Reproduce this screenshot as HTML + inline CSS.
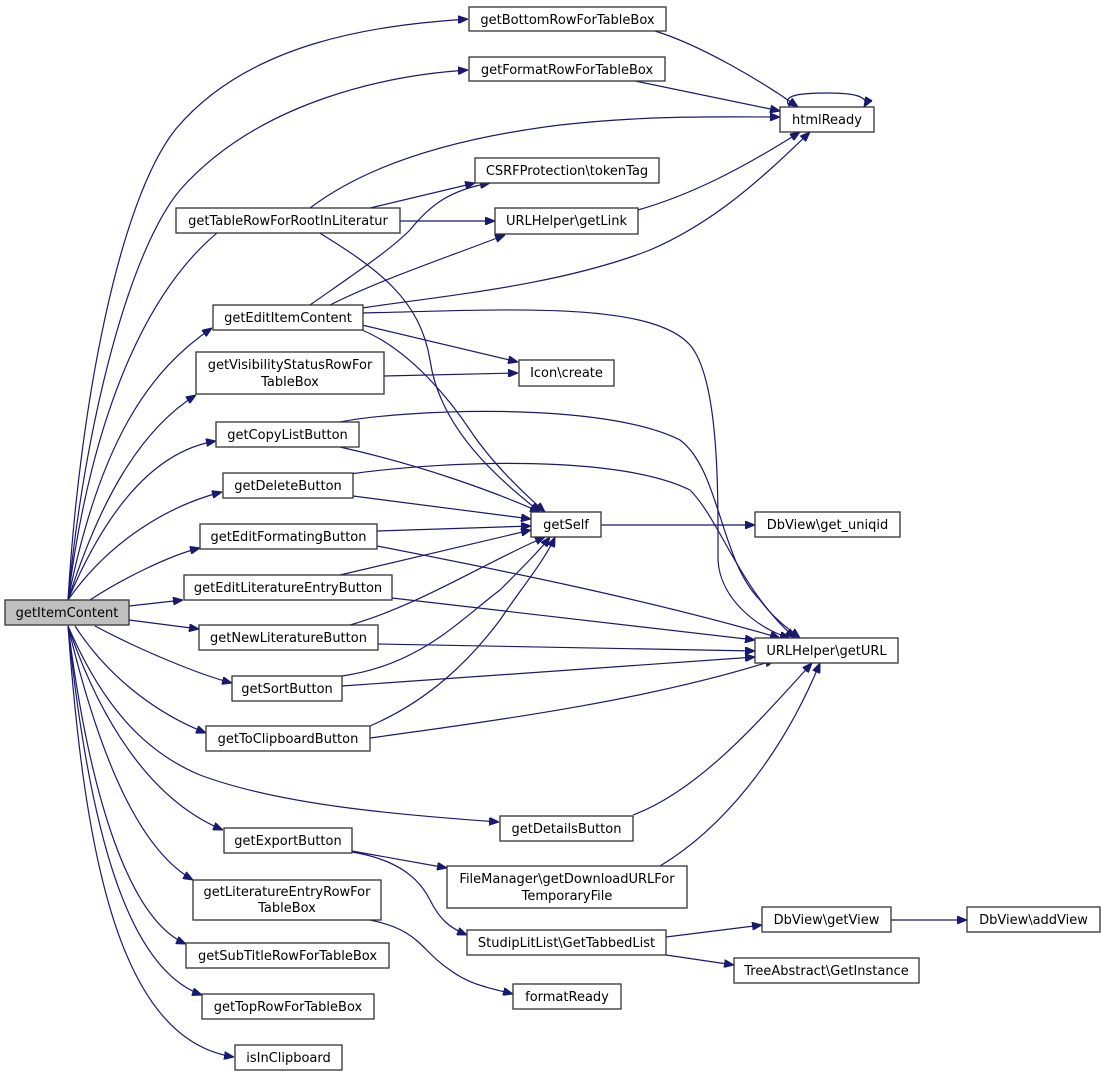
<!DOCTYPE html>
<html><head><meta charset="utf-8"><style>
html,body{margin:0;padding:0;background:#fff;}
svg{display:block;}
text{font-family:"DejaVu Sans","Liberation Sans",sans-serif;font-size:13px;fill:#000;}
.n{fill:#fff;stroke:#333;stroke-width:1.3;}
.e{fill:none;stroke:#191970;stroke-width:1.2;}
</style></head><body>
<svg width="1105" height="1079" viewBox="0 0 1105 1079" xmlns="http://www.w3.org/2000/svg">
<defs><marker id="a" markerWidth="10" markerHeight="8" refX="10" refY="4" orient="auto" markerUnits="userSpaceOnUse"><path d="M0,0 L10,4 L0,8 z" fill="#191970" stroke="#191970"/></marker></defs>
<g class="e" marker-end="url(#a)">
<!-- from getItemContent -->
<path d="M68,600 C80,400 120,200 175,130 C250,40 380,25 468,19"/>
<path d="M68,600 C85,420 130,250 180,190 C260,100 390,75 468,70"/>
<path d="M68,600 C90,420 150,260 255,208"/>
<path d="M68,600 C100,440 150,370 212,328"/>
<path d="M68,600 C100,500 140,430 196,395"/>
<path d="M68,600 C110,500 160,450 216,441"/>
<path d="M68,600 C110,540 170,505 222,492"/>
<path d="M90,600 C120,580 170,555 200,548"/>
<path d="M129,606 L183,600"/>
<path d="M129,620 L199,629"/>
<path d="M95,626 C140,650 200,675 232,683"/>
<path d="M75,626 C110,680 160,715 206,733"/>
<path d="M68,626 C100,700 140,750 200,775 C280,805 400,815 499,822"/>
<path d="M68,626 C100,720 150,800 223,830"/>
<path d="M68,626 C100,760 140,850 193,880"/>
<path d="M68,626 C90,800 130,920 186,944"/>
<path d="M68,626 C90,840 130,970 202,995"/>
<path d="M68,626 C85,860 120,1040 234,1057"/>
<!-- to htmlReady -->
<path d="M655,31 C700,45 760,80 798,107"/>
<path d="M635,81 L780,111"/>
<path d="M310,208 C360,170 440,140 560,125 C650,115 720,117 780,117"/>
<path d="M638,210 C690,195 740,170 800,132"/>
<path d="M362,308 C450,295 560,285 650,250 C720,220 770,170 810,132"/>
<path d="M790,107 C780,95 800,93 828,93 C856,93 870,97 864,107"/>
<!-- getTableRow -->
<path d="M370,208 L475,183"/>
<path d="M400,221 L495,221"/>
<path d="M318,232 C380,270 420,300 430,360 C440,430 500,480 540,512"/>
<!-- getEditItemContent -->
<path d="M310,305 C360,270 390,250 410,230 C430,205 450,190 490,183"/>
<path d="M330,305 C380,280 440,260 505,235"/>
<path d="M362,313 C500,310 650,300 690,345 C720,380 718,500 718,560 C720,600 760,630 790,638"/>
<path d="M362,325 L518,362"/>
<path d="M362,330 C410,350 450,400 470,430 C490,460 520,490 545,512"/>
<!-- visibility -->
<path d="M384,376 L518,373"/>
<!-- copy list -->
<path d="M340,422 C400,410 600,400 680,440 C720,470 720,560 760,600 C775,620 790,630 800,638"/>
<path d="M340,447 C420,465 490,490 540,512"/>
<!-- delete -->
<path d="M350,474 C450,460 620,455 690,490 C720,520 740,590 795,638"/>
<path d="M353,496 L531,519"/>
<!-- editFormating -->
<path d="M377,531 L531,526"/>
<path d="M377,546 C500,570 650,600 780,638"/>
<!-- editLitEntry -->
<path d="M340,575 L531,530"/>
<path d="M392,598 L755,640"/>
<!-- newLit -->
<path d="M350,625 C420,605 490,560 545,537"/>
<path d="M378,644 L755,651"/>
<!-- sort -->
<path d="M342,676 C420,665 460,620 500,590 C520,570 540,550 550,537"/>
<path d="M342,686 L755,657"/>
<!-- toClipboard -->
<path d="M370,726 C430,700 470,660 500,620 C520,590 545,560 555,537"/>
<path d="M370,738 C500,720 650,700 775,660"/>
<!-- getSelf -->
<path d="M601,525 L755,525"/>
<!-- details -->
<path d="M633,815 C700,790 760,720 812,663"/>
<!-- export -->
<path d="M352,851 L447,868"/>
<path d="M352,852 C400,860 420,880 430,900 C440,920 450,928 467,935"/>
<!-- FileManager -->
<path d="M660,866 C720,830 780,760 820,663"/>
<!-- lit entry row -->
<path d="M370,920 C420,930 420,950 450,970 C470,985 490,988 513,994"/>
<!-- tabbed list -->
<path d="M666,937 L762,925"/>
<path d="M666,955 L734,965"/>
<path d="M891,920 L967,920"/>
</g>
<g>
<rect class="n" x="5" y="600" width="124" height="25" fill="#bfbfbf" style="fill:#bfbfbf"/><text x="67" y="617" text-anchor="middle">getItemContent</text>
<rect class="n" x="469" y="7" width="197" height="24"/><text x="567.5" y="24" text-anchor="middle">getBottomRowForTableBox</text>
<rect class="n" x="469" y="57" width="196" height="24"/><text x="567" y="74" text-anchor="middle">getFormatRowForTableBox</text>
<rect class="n" x="780" y="107" width="94" height="25"/><text x="827" y="124" text-anchor="middle">htmlReady</text>
<rect class="n" x="475" y="158" width="184" height="25"/><text x="567" y="175" text-anchor="middle">CSRFProtection\tokenTag</text>
<rect class="n" x="176" y="208" width="224" height="25"/><text x="288" y="225" text-anchor="middle">getTableRowForRootInLiteratur</text>
<rect class="n" x="495" y="208" width="143" height="26"/><text x="566.5" y="225" text-anchor="middle">URLHelper\getLink</text>
<rect class="n" x="213" y="305" width="150" height="25"/><text x="288" y="322" text-anchor="middle">getEditItemContent</text>
<rect class="n" x="196" y="352" width="188" height="42"/><text x="290" y="369" text-anchor="middle">getVisibilityStatusRowFor</text><text x="290" y="386" text-anchor="middle">TableBox</text>
<rect class="n" x="519" y="360" width="95" height="26"/><text x="566.5" y="377" text-anchor="middle">Icon\create</text>
<rect class="n" x="216" y="422" width="143" height="25"/><text x="287.5" y="439" text-anchor="middle">getCopyListButton</text>
<rect class="n" x="223" y="473" width="130" height="25"/><text x="288" y="490" text-anchor="middle">getDeleteButton</text>
<rect class="n" x="200" y="524" width="177" height="25"/><text x="288.5" y="541" text-anchor="middle">getEditFormatingButton</text>
<rect class="n" x="531" y="512" width="70" height="25"/><text x="566" y="529" text-anchor="middle">getSelf</text>
<rect class="n" x="755" y="512" width="145" height="25"/><text x="827.5" y="529" text-anchor="middle">DbView\get_uniqid</text>
<rect class="n" x="184" y="575" width="208" height="25"/><text x="288" y="592" text-anchor="middle">getEditLiteratureEntryButton</text>
<rect class="n" x="199" y="625" width="179" height="25"/><text x="288.5" y="642" text-anchor="middle">getNewLiteratureButton</text>
<rect class="n" x="755" y="638" width="143" height="25"/><text x="826.5" y="655" text-anchor="middle">URLHelper\getURL</text>
<rect class="n" x="232" y="676" width="110" height="25"/><text x="287" y="693" text-anchor="middle">getSortButton</text>
<rect class="n" x="206" y="726" width="164" height="25"/><text x="288" y="743" text-anchor="middle">getToClipboardButton</text>
<rect class="n" x="500" y="816" width="133" height="25"/><text x="566.5" y="833" text-anchor="middle">getDetailsButton</text>
<rect class="n" x="224" y="828" width="128" height="25"/><text x="288" y="845" text-anchor="middle">getExportButton</text>
<rect class="n" x="447" y="866" width="240" height="42"/><text x="567" y="883" text-anchor="middle">FileManager\getDownloadURLFor</text><text x="567" y="900" text-anchor="middle">TemporaryFile</text>
<rect class="n" x="193" y="880" width="188" height="40"/><text x="287" y="896" text-anchor="middle">getLiteratureEntryRowFor</text><text x="287" y="912" text-anchor="middle">TableBox</text>
<rect class="n" x="467" y="930" width="199" height="25"/><text x="566.5" y="947" text-anchor="middle">StudipLitList\GetTabbedList</text>
<rect class="n" x="762" y="907" width="129" height="25"/><text x="826.5" y="924" text-anchor="middle">DbView\getView</text>
<rect class="n" x="967" y="907" width="133" height="25"/><text x="1033.5" y="924" text-anchor="middle">DbView\addView</text>
<rect class="n" x="734" y="958" width="185" height="25"/><text x="826.5" y="975" text-anchor="middle">TreeAbstract\GetInstance</text>
<rect class="n" x="186" y="943" width="203" height="25"/><text x="287.5" y="960" text-anchor="middle">getSubTitleRowForTableBox</text>
<rect class="n" x="513" y="984" width="108" height="25"/><text x="567" y="1001" text-anchor="middle">formatReady</text>
<rect class="n" x="202" y="994" width="172" height="25"/><text x="288" y="1011" text-anchor="middle">getTopRowForTableBox</text>
<rect class="n" x="235" y="1045" width="107" height="25"/><text x="288.5" y="1062" text-anchor="middle">isInClipboard</text>
</g>
</svg>
</body></html>
